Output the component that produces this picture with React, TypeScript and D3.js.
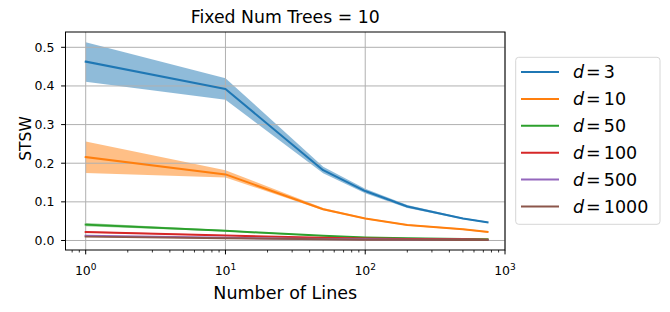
import React from "react";
import * as d3 from "d3";

const xValues = [1, 10, 50, 100, 200, 500, 750];

const d3Mean = [0.463, 0.392, 0.182, 0.128, 0.088, 0.057, 0.047];
const d3Lower = [0.411, 0.364, 0.174, 0.122, 0.084, 0.055, 0.045];
const d3Upper = [0.513, 0.42, 0.191, 0.134, 0.092, 0.059, 0.049];

const d10Mean = [0.216, 0.171, 0.081, 0.057, 0.04, 0.029, 0.022];
const d10Lower = [0.175, 0.163, 0.078, 0.055, 0.038, 0.027, 0.02];
const d10Upper = [0.256, 0.182, 0.084, 0.059, 0.042, 0.031, 0.024];

const d50Mean = [0.041, 0.025, 0.012, 0.008, 0.006, 0.004, 0.003];
const d50Lower = [0.037, 0.023, 0.011, 0.007, 0.005, 0.003, 0.002];
const d50Upper = [0.045, 0.027, 0.013, 0.009, 0.007, 0.005, 0.004];

const d100Mean = [0.022, 0.013, 0.007, 0.005, 0.004, 0.003, 0.002];
const d100Lower = [0.02, 0.012, 0.006, 0.004, 0.003, 0.002, 0.0015];
const d100Upper = [0.024, 0.014, 0.008, 0.006, 0.005, 0.004, 0.0025];

const d500Mean = [0.012, 0.007, 0.004, 0.003, 0.002, 0.002, 0.001];
const d500Lower = [0.011, 0.006, 0.0035, 0.0025, 0.0015, 0.0015, 0.0008];
const d500Upper = [0.013, 0.008, 0.0045, 0.0035, 0.0025, 0.0025, 0.0012];

const d1000Mean = [0.01, 0.006, 0.003, 0.002, 0.002, 0.001, 0.001];
const d1000Lower = [0.009, 0.0055, 0.0027, 0.0018, 0.0017, 0.0008, 0.0008];
const d1000Upper = [0.011, 0.0065, 0.0033, 0.0022, 0.0023, 0.0012, 0.0012];

const seriesLabels = ["3", "10", "50", "100", "500", "1000"];
const seriesColors = ["#1f77b4", "#ff7f0e", "#2ca02c", "#d62728", "#9467bd", "#8c564b"];
const seriesMeans = [d3Mean, d10Mean, d50Mean, d100Mean, d500Mean, d1000Mean];
const seriesLowers = [d3Lower, d10Lower, d50Lower, d100Lower, d500Lower, d1000Lower];
const seriesUppers = [d3Upper, d10Upper, d50Upper, d100Upper, d500Upper, d1000Upper];

const yTicks = [0.0, 0.1, 0.2, 0.3, 0.4, 0.5];
const xTickExps = [0, 1, 2, 3];

const title = "Fixed Num Trees = 10";
const xLabel = "Number of Lines";
const yLabel = "STSW";

const FONT = "DejaVu Sans, sans-serif";

export default function App() {
  const left = 65.5, right = 505, top = 32, bottom = 250;
  const x = d3.scaleLog().domain([Math.pow(10, -0.1445), 1000]).range([left, right]);
  const y = d3.scaleLinear().domain([-0.0246, 0.5396]).range([bottom, top]);

  const minorTicks: number[] = [];
  for (let k = -1; k <= 2; k++) {
    for (let m = 2; m <= 9; m++) {
      const v = m * Math.pow(10, k);
      if (v >= x.domain()[0] && v <= 1000) minorTicks.push(v);
    }
  }

  const line = d3.line<number>().x((_, i) => x(xValues[i])).y((d) => y(d));

  const legendRowY = (i: number) => 72 + i * 26.9;

  return (
    <svg
      width={670}
      height={312}
      style={{ position: "absolute", left: 0, top: 0, background: "#fff" }}
      fontFamily={FONT}
    >
      <rect x={0} y={0} width={670} height={312} fill="#fff" />
      {seriesMeans.map((_, s) => {
        const lo = seriesLowers[s];
        const hi = seriesUppers[s];
        const a = d3
          .area<number>()
          .x((_, i) => x(xValues[i]))
          .y0((_, i) => y(lo[i]))
          .y1((_, i) => y(hi[i]));
        return <path key={"b" + s} d={a(xValues) || ""} fill={seriesColors[s]} fillOpacity={0.5} stroke="none" />;
      })}
      {xTickExps.map((e) => (
        <line key={"gx" + e} x1={x(Math.pow(10, e))} x2={x(Math.pow(10, e))} y1={top} y2={bottom} stroke="#b0b0b0" strokeWidth={1} />
      ))}
      {yTicks.map((t) => (
        <line key={"gy" + t} x1={left} x2={right} y1={y(t)} y2={y(t)} stroke="#b0b0b0" strokeWidth={1} />
      ))}
      {seriesMeans.map((m, s) => (
        <path key={"l" + s} d={line(m) || ""} fill="none" stroke={seriesColors[s]} strokeWidth={2} strokeLinejoin="round" strokeLinecap="square" />
      ))}
      <rect x={left} y={top} width={right - left} height={bottom - top} fill="none" stroke="#000" strokeWidth={1} />
      {yTicks.map((t) => (
        <g key={"yt" + t}>
          <line x1={left - 4.4} x2={left} y1={y(t)} y2={y(t)} stroke="#000" strokeWidth={1} />
          <text x={left - 11} y={y(t)} dy="0.35em" textAnchor="end" fontSize={12.5} fill="#000">
            {t.toFixed(1)}
          </text>
        </g>
      ))}
      {xTickExps.map((e) => (
        <g key={"xt" + e}>
          <line x1={x(Math.pow(10, e))} x2={x(Math.pow(10, e))} y1={bottom} y2={bottom + 4.4} stroke="#000" strokeWidth={1} />
          <text x={x(Math.pow(10, e))} y={275} textAnchor="middle" fontSize={12.5} fill="#000">
            10
            <tspan fontSize={9} dy={-5.5}>{String(e)}</tspan>
          </text>
        </g>
      ))}
      {minorTicks.map((v) => (
        <line key={"mt" + v} x1={x(v)} x2={x(v)} y1={bottom} y2={bottom + 2.5} stroke="#000" strokeWidth={0.8} />
      ))}
      <text x={(left + right) / 2} y={23} textAnchor="middle" fontSize={17.3} fill="#000">
        {title}
      </text>
      <text x={(left + right) / 2} y={299} textAnchor="middle" fontSize={17.5} fill="#000">
        {xLabel}
      </text>
      <text transform={`translate(30.5,138.5) rotate(-90)`} textAnchor="middle" fontSize={15.5} fill="#000">
        {yLabel}
      </text>
      <rect x={515.7} y={57.3} width={144.3} height={167} rx={3} fill="#fff" fillOpacity={0.8} stroke="#d6d6d6" strokeWidth={1} />
      {seriesLabels.map((lab, i) => (
        <g key={"lg" + i}>
          <line x1={521} x2={559} y1={legendRowY(i)} y2={legendRowY(i)} stroke={seriesColors[i]} strokeWidth={2} />
          <text x={573} y={legendRowY(i)} dy="0.36em" fontSize={17.5} fill="#000">
            <tspan fontStyle="italic">d</tspan>
            <tspan dx={2}>=</tspan>
            <tspan dx={3}>{lab}</tspan>
          </text>
        </g>
      ))}
    </svg>
  );
}
